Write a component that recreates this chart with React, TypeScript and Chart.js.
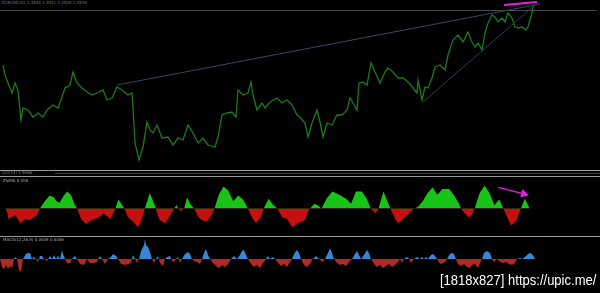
import React, { useEffect, useRef } from "react";
import { Chart, registerables } from "chart.js";

Chart.register(...registerables);

// ---------- DATA ----------
// Price pane (bar position, price level in chart units)
const priceBars = [3,5,8,12,15,18,21,23,28,33,38,43,47,53,58,62,65,70,73,77,82,87,92,97,103,107,112,117,122,128,132,133,135,139,143,147,150,153,157,162,168,173,178,183,188,193,198,203,208,215,218,222,227,232,236,238,243,248,251,253,257,262,265,270,277,282,287,292,297,300,305,308,312,317,320,323,327,332,337,342,347,350,353,357,359,363,367,371,375,380,385,388,393,398,403,408,413,417,418,422,425,428,432,435,440,445,448,453,458,463,468,472,475,478,482,485,488,492,495,498,502,505,508,512,515,518,522,526,528,532,533];
const priceLevels = [105,95,87,77,87,80,50,62,60,53,57,53,60,65,62,73,82,85,98,87,82,78,75,77,80,70,72,83,80,75,77,63,27,10,23,48,40,37,45,32,33,25,32,30,45,37,27,32,25,23,33,55,57,58,53,80,75,77,88,75,60,67,62,68,72,67,70,65,55,53,47,33,47,60,48,33,47,45,55,55,60,72,67,60,87,88,85,107,98,87,98,102,98,92,92,88,82,77,90,70,83,82,92,103,105,100,115,130,135,128,138,128,123,127,120,137,147,155,153,148,152,148,157,152,143,142,143,140,143,157,165];

// Trend lines on price pane
const trendUpperBars = [117, 540];
const trendUpperLevels = [85, 166];
const trendLowerBars = [423, 535];
const trendLowerLevels = [68, 165];
const priceArrowBars = [504, 537];
const priceArrowLevels = [165, 168];

// Oscillator pane (ZlxMA)
const oscBars = [0,2,3,10,15,20,25,32,35,40,45,49,52,55,60,63,67,70,73,77,82,88,95,100,107,112,115,118,121,125,130,135,138,142,147,152,153,157,163,168,172,174,178,182,185,188,192,197,200,205,210,213,217,222,227,232,237,242,247,252,255,260,263,268,273,277,282,287,292,298,305,308,310,315,318,322,327,333,340,347,352,357,363,368,372,377,380,385,390,392,397,400,407,416,420,425,430,435,440,445,452,457,462,464,468,472,475,478,483,488,493,498,503,507,512,515,520,525,529,534];
const oscValues = [0,-6,-13,-8,-18,-13,-14,-8,0,9,16,14,9,7,17,21,16,6,0,-13,-19,-14,-11,-6,-13,0,11,6,0,-11,-16,-23,-16,0,19,4,0,-14,-18,-8,0,4,-3,0,14,6,0,-11,-14,-16,-8,0,16,27,22,9,16,11,0,-13,-18,-11,0,12,4,0,-11,-13,-23,-18,-14,-4,0,6,4,0,12,21,17,12,6,21,21,12,0,-6,0,21,6,0,-13,-18,-11,0,2,9,19,26,17,24,24,16,6,0,-6,-11,-8,0,19,28,19,4,11,0,-13,-21,-16,0,12,0];
const oscArrowBars = [502, 528];
const oscArrowValues = [26, 18];

// Histogram pane (MACD)
const histBars = [0,2,4,6,8,10,12,14,15,17,19,21,23,26,28,30,32,34,36,38,40,42,44,47,50,52,54,56,58,60,62,63,65,67,70,72,75,77,80,84,87,90,94,97,100,102,105,108,111,113,116,118,121,125,128,131,133,135,137,139,141,144,145,146,148,150,152,154,156,158,160,163,165,167,170,172,174,176,178,180,182,185,188,190,192,194,197,200,202,204,206,208,210,213,216,219,222,225,228,231,234,237,240,242,244,246,248,251,254,257,260,263,266,268,270,273,275,278,281,284,287,290,292,294,297,299,301,304,307,310,313,316,319,322,325,328,330,332,334,337,340,343,346,349,352,355,357,359,361,364,367,369,371,374,377,380,383,386,389,392,395,398,400,402,404,407,409,411,414,417,420,422,424,426,428,431,433,435,437,440,443,446,448,450,452,454,456,458,461,464,467,470,472,475,478,480,482,484,487,490,492,494,497,500,503,506,509,512,515,517,520,522,525,528,530,532,534,535];
const histValues = [0,-8,-10,-6,-10,-7,-9,0,2,0,-11,-13,0,5,6,6,0,2,0,-3,3,3,0,-2,3,0,4,0,3,0,9,5,0,-4,-4,0,3,0,-5,-6,0,-4,-4,-3,3,0,-5,0,2,5,3,0,-5,-6,-5,-4,4,0,-4,0,8,14,20,14,12,7,0,-4,0,3,-4,-7,0,2,3,-2,-3,0,2,-4,0,5,7,5,0,-2,-3,-5,0,6,10,4,0,-4,-7,-9,-6,-8,-5,0,3,0,4,8,9,4,0,-5,-8,-6,-9,-4,0,3,0,2,0,-4,-7,-5,-8,-3,0,5,9,6,0,-6,-8,-5,0,3,0,-3,0,6,11,6,0,-4,-6,-5,-7,-3,0,5,8,4,0,4,9,6,0,-5,-8,-6,-9,-7,-5,-8,-6,-3,0,-4,0,2,0,-4,0,2,0,2,0,2,0,4,5,3,0,-5,-4,-2,2,5,6,5,0,-5,-7,-5,-8,-9,-6,-5,-9,-4,0,6,8,6,0,-3,0,-3,-4,-3,-5,-6,-4,0,1,0,2,5,6,5,2,0];

const labels = {
  header: "EURUSD,H1  1.3534 1.3541 1.3528 1.3538",
  strip: "CCI(14) 1.9066",
  osc: "ZlxMA 0.206",
  hist: "MACD(12,26,9) 0.0009 0.0006",
  watermark: "[1818x827] https://upic.me/",
};

// ---------- HELPERS ----------
const pts = (xs: number[], ys: number[]) => xs.map((x, i) => ({ x, y: ys[i] }));

function baseOptions(yMin: number, yMax: number): any {
  return {
    animation: false,
    responsive: false,
    maintainAspectRatio: false,
    layout: { padding: 0 },
    plugins: { legend: { display: false }, tooltip: { enabled: false } },
    scales: {
      x: { type: "linear", min: 0, max: 600, display: false },
      y: { type: "linear", min: yMin, max: yMax, display: false },
    },
    elements: { point: { radius: 0 }, line: { tension: 0 } },
  };
}

function Pane({ top, height, datasets, yMin, yMax }: any) {
  const ref = useRef<HTMLCanvasElement | null>(null);
  useEffect(() => {
    if (!ref.current) return;
    const chart = new Chart(ref.current, {
      type: "line",
      data: { datasets },
      options: baseOptions(yMin, yMax),
    });
    return () => chart.destroy();
  }, []);
  return (
    <canvas
      ref={ref}
      width={600}
      height={height}
      style={{ position: "absolute", left: 0, top, width: 600, height }}
    />
  );
}

const hLine = (top: number, color: string, h = 1, left = 0, width = 600) => (
  <div style={{ position: "absolute", left, top, width, height: h, background: color }} />
);

const tiny = (text: string, left: number, top: number, color: string, size = 5) => (
  <div
    style={{
      position: "absolute", left, top, color, fontSize: size, lineHeight: `${size}px`,
      fontFamily: "DejaVu Sans", whiteSpace: "nowrap",
    }}
  >
    {text}
  </div>
);

export default function App() {
  const priceSets = [
    { data: pts(trendUpperBars, trendUpperLevels), borderColor: "#34495e", borderWidth: 1 },
    { data: pts(trendLowerBars, trendLowerLevels), borderColor: "#2c3e50", borderWidth: 1 },
    { data: pts(priceBars, priceLevels), borderColor: "#1b7a1b", borderWidth: 1.3 },
    { data: pts(priceArrowBars, priceArrowLevels), borderColor: "#e81ee8", borderWidth: 2 },
  ];
  const oscSets = [
    {
      data: pts(oscBars, oscValues),
      borderWidth: 0,
      borderColor: "rgba(0,0,0,0)",
      fill: { target: "origin", above: "#17c417", below: "#c41010" },
    },
    {
      data: pts(oscArrowBars, oscArrowValues),
      borderColor: "#e81ee8",
      borderWidth: 1.5,
      pointStyle: "triangle",
      pointRadius: [0, 3.5],
      pointRotation: [0, 107],
      pointBackgroundColor: "#e81ee8",
      pointBorderColor: "#e81ee8",
    },
  ];
  const histSets = [
    {
      data: pts(histBars, histValues),
      borderWidth: 0,
      borderColor: "rgba(0,0,0,0)",
      fill: { target: "origin", above: "#3a86d6", below: "#b02828" },
    },
  ];

  return (
    <div style={{ position: "fixed", left: 0, top: 0, width: 600, height: 293, background: "#000", overflow: "hidden" }}>
      {tiny(labels.header, 2, 1, "#777", 4)}
      {hLine(10, "#4a4a4a", 1, 0, 597)}
      <Pane top={0} height={170} datasets={priceSets} yMin={0} yMax={170} />
      {hLine(170, "#9a9a9a", 1)}
      {tiny(labels.strip, 2, 171, "#888", 4)}
      {hLine(173, "#5a3a3e", 1, 55, 545)}
      {hLine(176, "#9a9a9a", 1)}
      <Pane top={177} height={59} datasets={oscSets} yMin={-27} yMax={32} />
      {tiny(labels.osc, 3, 179, "#aaa", 4)}
      {hLine(236, "#9a9a9a", 1)}
      <Pane top={237} height={56} datasets={histSets} yMin={-34} yMax={22} />
      {tiny(labels.hist, 3, 238, "#aaa", 4)}
      <div
        style={{
          position: "absolute", left: 440, top: 272, color: "#fff", fontSize: 14,
          lineHeight: "16px", fontFamily: "'Liberation Sans', Arial, sans-serif", whiteSpace: "nowrap",
          textShadow: "1px 1px 1px #000", transform: "scaleX(0.93)", transformOrigin: "left top",
        }}
      >
        {labels.watermark}
      </div>
    </div>
  );
}
